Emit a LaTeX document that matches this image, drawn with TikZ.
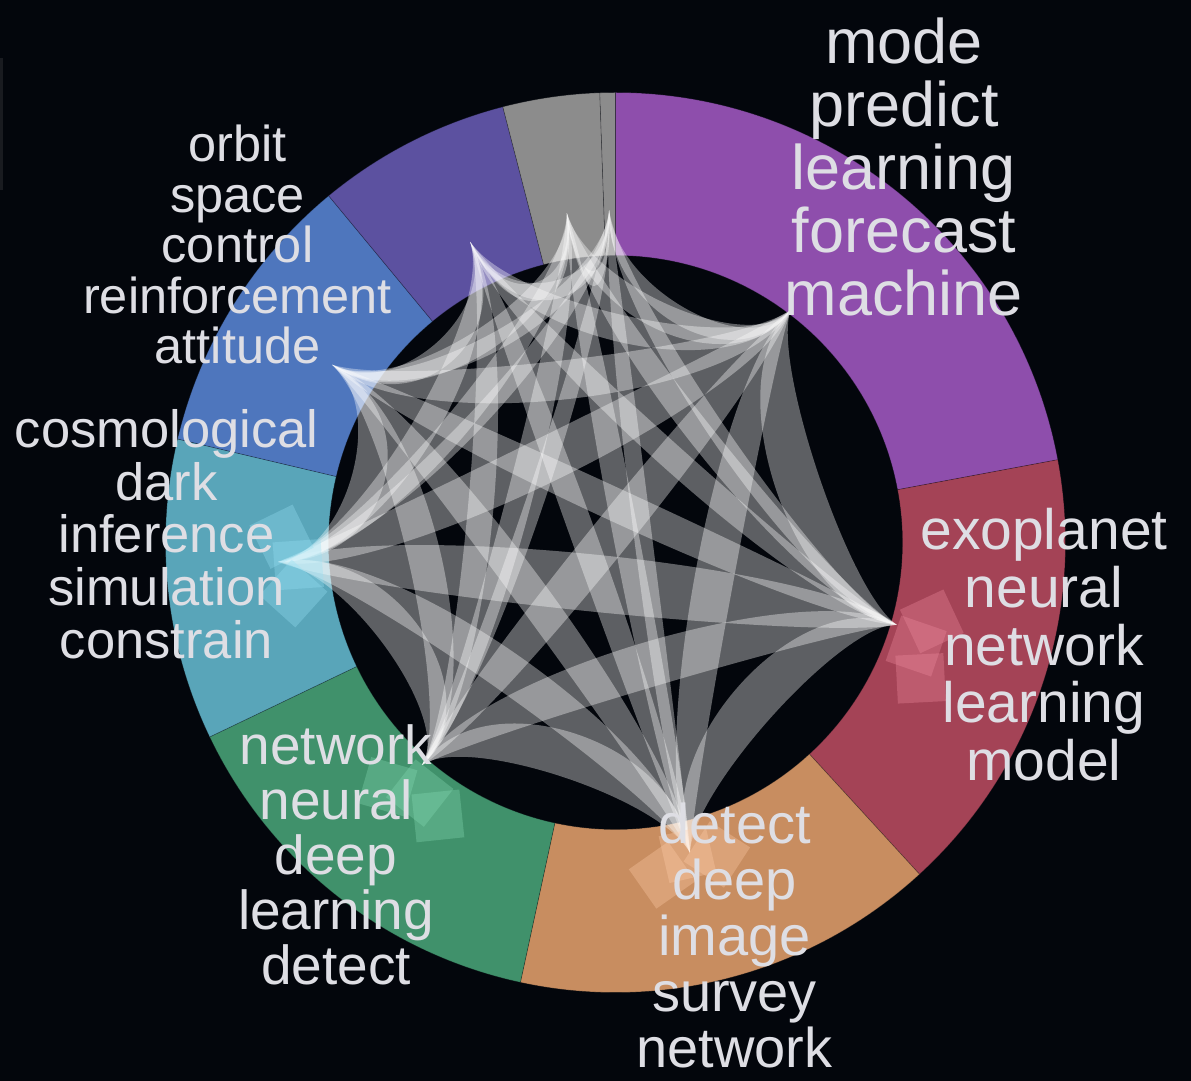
\documentclass[tikz,border=0pt]{standalone}
\usepackage{fontspec}
\setmainfont{Liberation Sans}
\usetikzlibrary{calc}
\definecolor{bg}{RGB}{3,6,12}
\definecolor{cPurple}{RGB}{142,78,172}
\definecolor{cRed}{RGB}{164,67,86}
\definecolor{cOrange}{RGB}{200,141,96}
\definecolor{cGreen}{RGB}{64,145,107}
\definecolor{cTeal}{RGB}{89,165,185}
\definecolor{cBlue}{RGB}{78,118,189}
\definecolor{cIndigo}{RGB}{92,81,160}
\definecolor{cGray}{RGB}{140,140,140}
\definecolor{lRed}{RGB}{240,140,160}
\definecolor{lOrange}{RGB}{255,205,170}
\definecolor{lGreen}{RGB}{135,220,180}
\definecolor{lTeal}{RGB}{150,225,245}
\definecolor{txt}{RGB}{222,222,228}
\definecolor{edge}{RGB}{25,27,32}
\tikzset{
  lbl/.style={text=txt, anchor=base, inner sep=0pt},
  band/.style={fill=white, fill opacity=0.36},
  segline/.style={draw=bg, draw opacity=0.35, line width=0.6pt}
}
\newcommand\ringseg[3]{%
  \fill[#3, segline] (#1:287pt) -- (#1:450pt) arc[start angle=#1, end angle=#2, radius=450pt]
    -- (#2:287pt) arc[start angle=#2, end angle=#1, radius=287pt] -- cycle;}
\newcommand\chordband[3]{%
  \coordinate (k1) at ($(#1)!0.27!(ctr)$);
  \coordinate (k2) at ($(#2)!0.27!(ctr)$);
  \coordinate (k1u) at ($(k1)!#3pt!90:(k2)$);
  \coordinate (k2u) at ($(k2)!#3pt!-90:(k1)$);
  \coordinate (k1d) at ($(k1)!#3pt!-90:(k2)$);
  \coordinate (k2d) at ($(k2)!#3pt!90:(k1)$);
  \fill[band] (#1) .. controls (k1u) and (k2u) .. (#2) .. controls (k2d) and (k1d) .. (#1) -- cycle;}
\newcommand\tiles[3]{%
  \foreach \rr/\dr/\da in {0/0/0, 22/16/-5, 44/8/5}{%
    \fill[#3, fill opacity=0.33, shift={({#1+\da}:{#2+\dr})}, rotate=#1+\rr] (-24,-24) rectangle (24,24);
  }}
\newcommand\wordstack[6]{%
  \foreach \w [count=\i from 0] in {#6}{%
    \node[lbl, font=\fontsize{#5}{#5}\selectfont] (#1\i) at (#2, {#3-\i*#4}) {\w};
  }}
\begin{document}
\begin{tikzpicture}[x=1pt,y=1pt]
\fill[bg] (-615.5,-538.5) rectangle (575.5,542.5);
\useasboundingbox (-615.5,-538.5) rectangle (575.5,542.5);
\fill[edge] (-615.5,484.5) rectangle (-612.5,352.5);
\coordinate (ctr) at (0,0);
% ring
\ringseg{90}{10.6}{cPurple}
\ringseg{10.6}{-47.5}{cRed}
\ringseg{-47.5}{-102.2}{cOrange}
\ringseg{-102.2}{-154.4}{cGreen}
\ringseg{205.6}{166.7}{cTeal}
\ringseg{166.7}{129.6}{cBlue}
\ringseg{129.6}{104.5}{cIndigo}
\ringseg{104.5}{92}{cGray}
\ringseg{92}{90}{cGray}
% anchors
\coordinate (aP) at (53:291pt);
\coordinate (aR) at (-16.3:293pt);
\coordinate (aO) at (-76.5:319pt);
\coordinate (aG) at (229:295pt);
\coordinate (aT) at (183.3:338pt);
\coordinate (aB) at (147.9:334.5pt);
\coordinate (aI) at (115.8:334pt);
\coordinate (aY) at (98.4:333pt);
\coordinate (aZ) at (91.1:332.5pt);
% chords
\chordband{aP}{aR}{30}
\chordband{aP}{aO}{26}
\chordband{aP}{aG}{26}
\chordband{aP}{aT}{30}
\chordband{aP}{aB}{26}
\chordband{aP}{aI}{18}
\chordband{aP}{aY}{18}
\chordband{aP}{aZ}{12}
\chordband{aR}{aO}{30}
\chordband{aR}{aG}{30}
\chordband{aR}{aT}{38}
\chordband{aR}{aB}{22}
\chordband{aR}{aI}{17}
\chordband{aR}{aY}{17}
\chordband{aR}{aZ}{12}
\chordband{aO}{aG}{30}
\chordband{aO}{aT}{26}
\chordband{aO}{aB}{22}
\chordband{aO}{aI}{17}
\chordband{aO}{aY}{17}
\chordband{aO}{aZ}{12}
\chordband{aG}{aT}{26}
\chordband{aG}{aB}{22}
\chordband{aG}{aI}{17}
\chordband{aG}{aY}{17}
\chordband{aG}{aZ}{12}
\chordband{aT}{aB}{22}
\chordband{aT}{aI}{17}
\chordband{aT}{aY}{17}
\chordband{aT}{aZ}{12}
\chordband{aB}{aI}{16}
\chordband{aB}{aY}{16}
\chordband{aB}{aZ}{12}
\chordband{aI}{aY}{12}
\chordband{aI}{aZ}{12}
\chordband{aY}{aZ}{10}
% tiles
\tiles{-19}{318}{lRed}
\tiles{-77}{320}{lOrange}
\tiles{232}{318}{lGreen}
\tiles{184}{318}{lTeal}
% labels
\wordstack{lp}{288.5}{478.5}{63}{63}{mode,predict,learning,forecast,machine}
\wordstack{lr}{428.5}{-7.5}{57.5}{57}{exoplanet,neural,network,learning,model}
\wordstack{lo}{119}{-300.5}{56}{56}{detect,deep,image,survey,network}
\wordstack{lg}{-279.5}{-221.5}{55}{55}{network,neural,deep,learning,detect}
\wordstack{lt}{-449}{94.5}{52.5}{52.5}{cosmological,dark,inference,simulation,constrain}
\wordstack{lb}{-378}{380.5}{50.5}{50.5}{orbit,space,control,reinforcement,attitude}
\end{tikzpicture}
\end{document}
